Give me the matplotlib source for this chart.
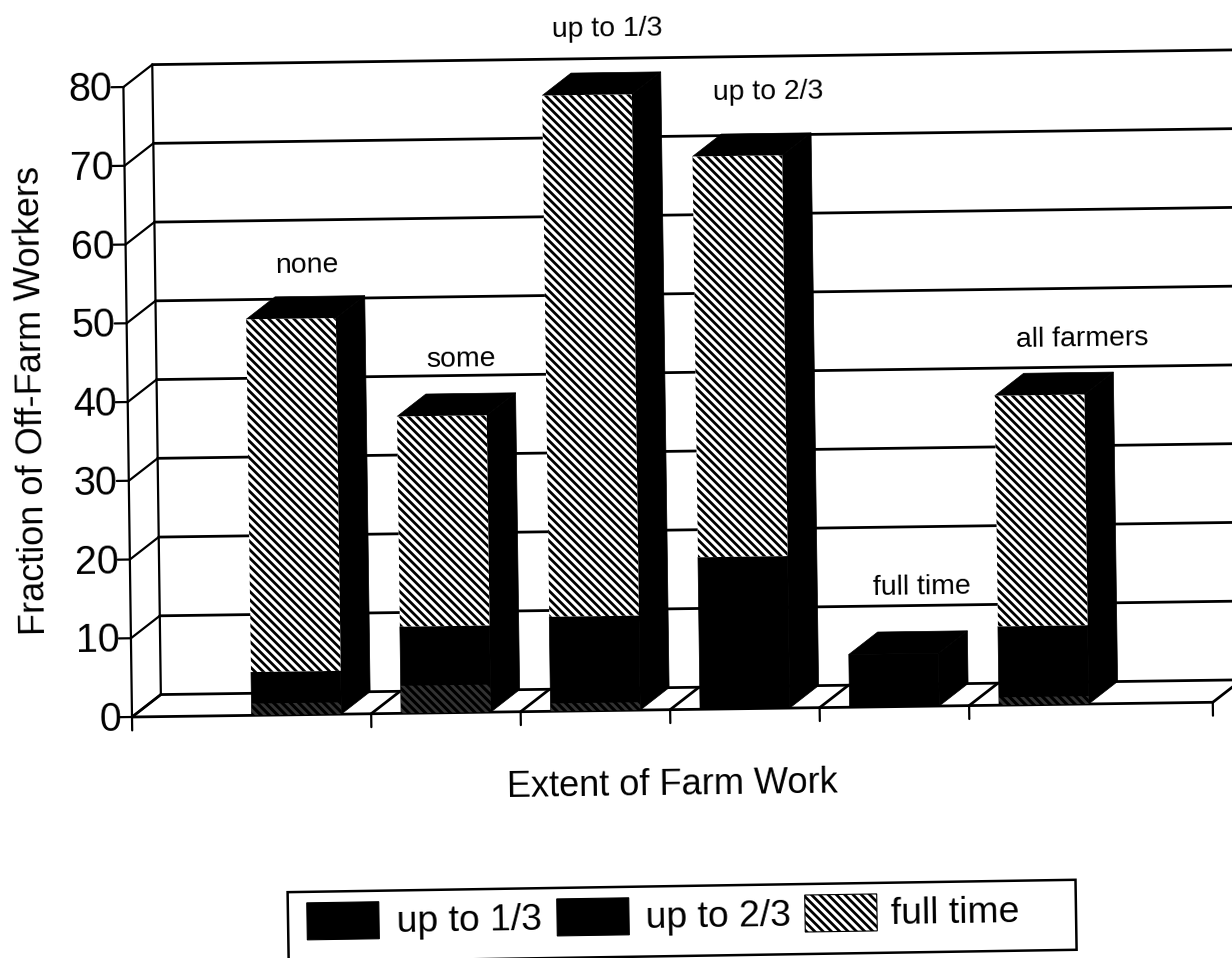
import matplotlib
matplotlib.use("Agg")
import matplotlib.pyplot as plt
from matplotlib.patches import Polygon, Rectangle
from matplotlib.transforms import Affine2D

W, H = 1232, 958

categories = ["none", "some", "up to 1/3", "up to 2/3", "full time", "all farmers"]
series_names = ["up to 1/3", "up to 2/3", "full time"]
up_to_third = [1.5, 3.5, 1.0, 0.0, 0.0, 1.0]
up_to_two_thirds = [4.0, 7.5, 11.0, 19.3, 6.7, 9.0]
full_time = [44.8, 26.7, 66.2, 50.9, 0.0, 29.3]

y_ticks = [0, 10, 20, 30, 40, 50, 60, 70, 80]
x_ticks = [0, 1.6, 2.6, 3.6, 4.6, 5.6, 7.23]

plt.rcParams["font.family"] = ["Liberation Sans", "DejaVu Sans"]
plt.rcParams["hatch.linewidth"] = 2.0

fig = plt.figure(figsize=(W / 100, H / 100), dpi=100)
ax = fig.add_axes([0, 0, 1, 1])
ax.set_xlim(-132 / 149.5, (W - 132) / 149.5)
ax.set_ylim(-(H - 717) / 7.875, 717 / 7.875)
ax.axis("off")

# the page was scanned slightly crooked
tilt = 0.78
t = ax.transData + Affine2D().rotate_deg_around(132, H - 717, tilt)

depth_x = 0.195
depth_y = 2.8
bar_w = 0.6
line_w = 2.0
hatch = "\\\\\\\\"


def line(xs, ys, lw=line_w):
    ax.plot(xs, ys, color="black", lw=lw, transform=t, solid_capstyle="round", clip_on=False)


def poly(points, z=3, **kw):
    ax.add_patch(Polygon(points, closed=True, transform=t, zorder=z, **kw))


def front(x, low, high, z=3, **kw):
    ax.add_patch(Rectangle((x, low), bar_w, high - low, transform=t, zorder=z, **kw))


# walls, floor and grid
far_right = 8.0
for v in y_ticks:
    line([depth_x, far_right], [v + depth_y, v + depth_y])
    line([0, depth_x], [v, v + depth_y], lw=1.6)
    line([-0.08, 0], [v, v], lw=1.6)
    ax.text(-0.075, v - 0.3, str(v), transform=t, fontsize=28.5, ha="right", va="center",
            rotation=tilt, rotation_mode="anchor")
line([0, 0], [0, 80], lw=1.6)
line([depth_x, depth_x], [depth_y, 80 + depth_y], lw=1.6)
line([0, x_ticks[-1]], [0, 0])
for x in x_ticks:
    line([x, x], [0, -1.7], lw=1.6)
    line([x, x + depth_x], [0, depth_y])

# bars, left to right so each one covers what is behind it
for i in range(len(categories)):
    x = 0.8 + i
    a = up_to_third[i]
    b = a + up_to_two_thirds[i]
    c = b + full_time[i]
    poly([(x + bar_w, 0), (x + bar_w + depth_x, depth_y), (x + bar_w + depth_x, c + depth_y),
          (x + bar_w, c)], facecolor="black", edgecolor="black", lw=0.5)
    poly([(x, c), (x + depth_x, c + depth_y), (x + bar_w + depth_x, c + depth_y), (x + bar_w, c)],
         facecolor="black", edgecolor="black", lw=0.5)
    front(x, 0, b, facecolor="black", edgecolor="black", lw=0.5)
    if a > 0:
        front(x, 0, a, z=4, facecolor="none", edgecolor=(1, 1, 1, 0.2), hatch=hatch, lw=0)
    if full_time[i] > 0:
        front(x, b, c, z=4, facecolor="white", edgecolor="black", hatch=hatch, lw=0)

# category names over the bars
label_px = [(307, 266), (461, 360), (607, 29), (768, 92), (922, 587), (1082, 339)]
for name, (px, py) in zip(categories, label_px):
    fig.text(px / W, 1 - py / H, name, fontsize=20.4, ha="center", va="center", rotation=tilt)

fig.text(32 / W, 1 - 401 / H, "Fraction of Off-Farm Workers", fontsize=26, ha="center", va="center",
         rotation=90 + tilt)
fig.text(672 / W, 1 - 785 / H, "Extent of Farm Work", fontsize=26, ha="center", va="center",
         rotation=tilt)

# hand built legend, it is tilted like the rest of the page
leg_t = Affine2D().rotate_deg_around(680, H - 915, 0.9)
box = Rectangle((288, H - 956), 788, 70, facecolor="white", edgecolor="black", lw=1.8, transform=leg_t)
fig.add_artist(box)
swatch_x = [307, 557, 805]
text_x = [397, 646, 891]
swatch_style = [
    dict(facecolor="black", edgecolor="black"),
    dict(facecolor="black", edgecolor="black"),
    dict(facecolor="white", edgecolor="black", hatch=hatch),
]
for name, sx, tx, style in zip(series_names, swatch_x, text_x, swatch_style):
    fig.add_artist(Rectangle((sx, H - 934), 72, 37, lw=0.8, transform=leg_t, **style))
    fig.text(tx, H - 918, name, fontsize=26.8, ha="left", va="center", transform=leg_t,
             rotation=0.9, rotation_mode="anchor")

fig.savefig("out.png", dpi=100)
